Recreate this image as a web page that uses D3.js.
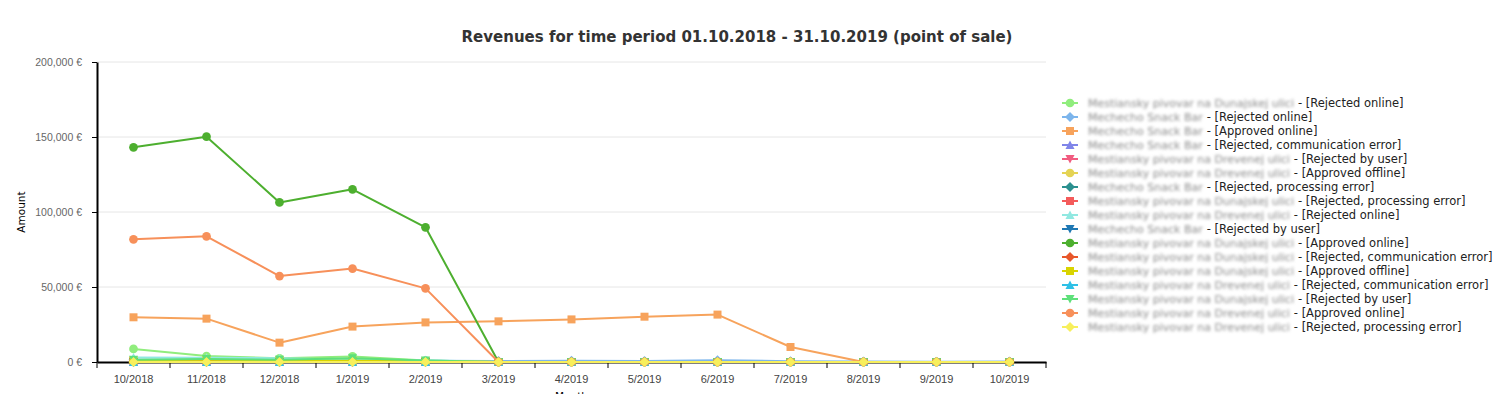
<!DOCTYPE html>
<html>
<head>
<meta charset="utf-8">
<script src="https://cdn.jsdelivr.net/npm/d3@7"></script>
<style>
  body { margin: 0; background: #fff; }
  svg { font-family: "DejaVu Sans", Verdana, sans-serif; }
</style>
</head>
<body>
<svg id="chart" width="1503" height="394"></svg>
<script>
const months = ["10/2018", "11/2018", "12/2018", "1/2019", "2/2019", "3/2019", "4/2019",
  "5/2019", "6/2019", "7/2019", "8/2019", "9/2019", "10/2019"];

const yTicks = [0, 50000, 100000, 150000, 200000];

const DUNAJ = "Mestiansky pivovar na Dunajskej ulici";
const MECH = "Mechecho Snack Bar";
const DREV = "Mestiansky pivovar na Drevenej ulici";

const seriesNames = [DUNAJ, MECH, MECH, MECH, DREV, DREV, MECH, DUNAJ, DREV, MECH,
  DUNAJ, DUNAJ, DUNAJ, DREV, DUNAJ, DREV, DREV];

const seriesStates = ["Rejected online", "Rejected online", "Approved online",
  "Rejected, communication error", "Rejected by user", "Approved offline",
  "Rejected, processing error", "Rejected, processing error", "Rejected online",
  "Rejected by user", "Approved online", "Rejected, communication error",
  "Approved offline", "Rejected, communication error", "Rejected by user",
  "Approved online", "Rejected, processing error"];

const seriesColors = ["#90ed7d", "#7cb5ec", "#f7a35c", "#8085e9", "#f15c80", "#e4d354",
  "#2b908f", "#f45b5b", "#91e8e1", "#1f78b4", "#4daf2f", "#e8572a", "#d9d400",
  "#2fc0e6", "#5ee07a", "#f7905a", "#f7ef5c"];

const seriesValues = [
  [8700, 4000, 2500, 3700, 1000, 0, 0, 0, 0, 0, 0, 0, 0],
  [1500, 1500, 1200, 1200, 800, 600, 900, 700, 1200, 500, 300, 200, 300],
  [29800, 28900, 12900, 23600, 26400, 27100, 28400, 30200, 31600, 10000, 0, 0, 0],
  [200, 100, 0, 100, 0, 0, 0, 0, 0, 0, 0, 0, 0],
  [300, 200, 500, 200, 100, 0, 0, 0, 0, 0, 0, 0, 0],
  [500, 800, 600, 400, 300, 0, 0, 0, 0, 0, 0, 0, 0],
  [0, 0, 0, 0, 0, 0, 0, 0, 0, 0, 0, 0, 0],
  [200, 300, 900, 300, 100, 0, 0, 0, 0, 0, 0, 0, 0],
  [3000, 2800, 2500, 1500, 1200, 0, 0, 0, 0, 0, 0, 0, 0],
  [0, 0, 0, 0, 0, 0, 0, 0, 0, 0, 0, 0, 0],
  [143100, 150200, 106400, 115100, 89800, 0, 0, 0, 0, 0, 0, 0, 0],
  [300, 200, 400, 200, 100, 0, 0, 0, 0, 0, 0, 0, 0],
  [1200, 1500, 1000, 800, 600, 0, 0, 0, 0, 0, 0, 0, 0],
  [0, 0, 0, 0, 0, 0, 0, 0, 0, 0, 0, 0, 0],
  [1500, 2000, 1500, 2500, 1000, 0, 0, 0, 0, 0, 0, 0, 0],
  [81800, 83800, 57300, 62300, 49100, 0, 0, 0, 0, 0, 0, 0, 0],
  [0, 0, 0, 0, 0, 0, 0, 0, 0, 0, 0, 0, 0]
];

const symbolCycle = ["circle", "diamond", "square", "triangle", "triangle-down"];

const series = seriesValues.map((values, i) => ({
  name: seriesNames[i],
  state: seriesStates[i],
  color: seriesColors[i],
  symbol: symbolCycle[i % 5],
  values: values,
}));

const svg = d3.select("#chart");

// blur filter for the hidden names
const defs = svg.append("defs");
defs.append("filter")
  .attr("id", "blur")
  .attr("x", "-5%").attr("y", "-50%").attr("width", "110%").attr("height", "200%")
  .append("feGaussianBlur")
  .attr("stdDeviation", 1.4);

const plot = { left: 97, right: 1046, top: 62, bottom: 362 };

const xScale = d3.scaleBand().domain(months).range([plot.left, plot.right]);
const yScale = d3.scaleLinear().domain([0, 200000]).range([plot.bottom, plot.top]);

const fmt = (v) => d3.format(",")(v) + " €";

// grid
svg.append("g")
  .selectAll("line")
  .data(yTicks.filter((t) => t > 0))
  .enter()
  .append("line")
  .attr("x1", plot.left)
  .attr("x2", plot.right)
  .attr("y1", (d) => yScale(d))
  .attr("y2", (d) => yScale(d))
  .attr("stroke", "#e6e6e6")
  .attr("stroke-width", 1);

// y axis
const yAxis = svg.append("g")
  .attr("transform", `translate(${plot.left},0)`)
  .call(d3.axisLeft(yScale).tickValues(yTicks).tickFormat(fmt).tickSize(5).tickSizeOuter(0));
yAxis.select(".domain").attr("stroke", "#000").attr("stroke-width", 2);
yAxis.selectAll(".tick line").attr("stroke", "#000");
yAxis.selectAll(".tick text")
  .attr("x", -15)
  .attr("fill", "#666")
  .style("font-size", "10.5px");

// x axis
const xAxis = svg.append("g")
  .attr("transform", `translate(0,${plot.bottom})`)
  .call(d3.axisBottom(xScale).tickSize(0).tickSizeOuter(0));
xAxis.select(".domain").attr("stroke", "#000").attr("stroke-width", 2);
xAxis.selectAll(".tick text")
  .attr("y", 13)
  .attr("fill", "#444")
  .style("font-size", "11px");

// tick marks on band boundaries
svg.append("g")
  .selectAll("line")
  .data(months.concat(["end"]))
  .enter()
  .append("line")
  .attr("x1", (d, i) => plot.left + i * xScale.step())
  .attr("x2", (d, i) => plot.left + i * xScale.step())
  .attr("y1", plot.bottom)
  .attr("y2", plot.bottom + 6)
  .attr("stroke", "#000")
  .attr("stroke-width", 1);

// axis titles
svg.append("text")
  .attr("transform", `translate(25,${(plot.top + plot.bottom) / 2}) rotate(-90)`)
  .attr("text-anchor", "middle")
  .style("font-size", "10.5px")
  .attr("fill", "#000")
  .text("Amount");

// x title sits mostly below the visible area, as in the original
svg.append("text")
  .attr("x", (plot.left + plot.right) / 2)
  .attr("y", 400)
  .attr("text-anchor", "middle")
  .style("font-size", "10.5px")
  .attr("fill", "#000")
  .text("Month");

// title
svg.append("text")
  .attr("x", 737)
  .attr("y", 42)
  .attr("text-anchor", "middle")
  .style("font-size", "15px")
  .style("font-weight", "bold")
  .attr("fill", "#333")
  .text("Revenues for time period 01.10.2018 - 31.10.2019 (point of sale)");

function symbolPath(type) {
  if (type === "circle") return d3.symbol(d3.symbolCircle, 60)();
  if (type === "square") return d3.symbol(d3.symbolSquare, 64)();
  if (type === "diamond") return "M0,-5L5,0L0,5L-5,0Z";
  if (type === "triangle") return "M0,-4.5L4.5,4L-4.5,4Z";
  return "M0,4.5L4.5,-4L-4.5,-4Z";
}

const cx = (i) => xScale(months[i]) + xScale.bandwidth() / 2;

const line = d3.line()
  .x((d, i) => cx(i))
  .y((d) => yScale(d));

// series
series.forEach((s) => {
  const g = svg.append("g");
  g.append("path")
    .attr("d", line(s.values))
    .attr("fill", "none")
    .attr("stroke", s.color)
    .attr("stroke-width", 2)
    .attr("stroke-linejoin", "round");
  g.selectAll("path.marker")
    .data(s.values)
    .enter()
    .append("path")
    .attr("class", "marker")
    .attr("d", symbolPath(s.symbol))
    .attr("transform", (d, i) => `translate(${cx(i)},${yScale(d)})`)
    .attr("fill", s.color);
});

// legend
const legend = svg.append("g").attr("transform", "translate(1062,103)");
series.forEach((s, i) => {
  const row = legend.append("g").attr("transform", `translate(0,${i * 14})`);
  row.append("line")
    .attr("x1", 0).attr("x2", 16)
    .attr("stroke", s.color).attr("stroke-width", 2);
  row.append("path")
    .attr("d", symbolPath(s.symbol))
    .attr("transform", "translate(8,0)")
    .attr("fill", s.color);
  const nameText = row.append("text")
    .attr("x", 26)
    .attr("y", 4)
    .style("font-size", "11px")
    .attr("fill", "#8a8a8a")
    .attr("filter", "url(#blur)")
    .text(s.name);
  const w = nameText.node().getComputedTextLength();
  row.append("text")
    .attr("x", 26 + w + 4)
    .attr("y", 4)
    .style("font-size", "11.5px")
    .attr("fill", "#222")
    .text(`- [${s.state}]`);
});
</script>
</body>
</html>
